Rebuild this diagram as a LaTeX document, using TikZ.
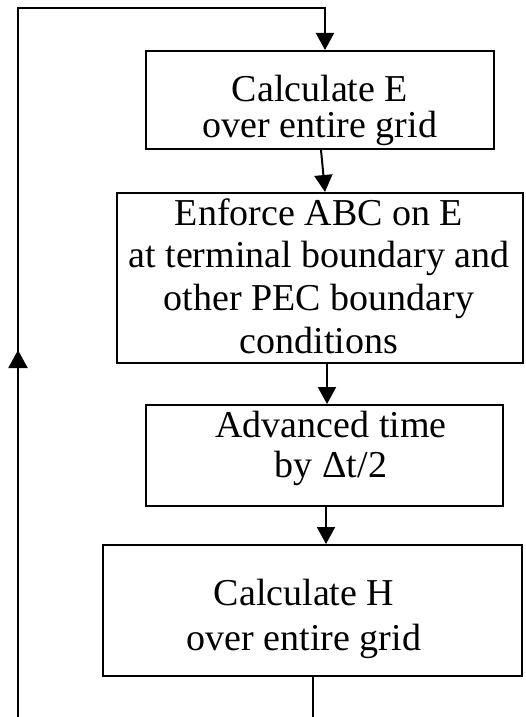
\documentclass[tikz,border=0pt]{standalone}
\usepackage{fontspec}
\setmainfont{Liberation Serif}
\usetikzlibrary{arrows.meta,calc,decorations.markings}
\begin{document}
\begin{tikzpicture}[x=1pt,y=1pt,
  box/.style={draw, line width=2pt, inner sep=0pt},
  txt/.style={inner sep=0pt, align=center},
  tip/.style={-{Triangle[width=18pt,length=17pt]}},
  conn/.style={line width=2pt},
  midup/.style={postaction={decorate}, decoration={markings,
      mark=at position 367pt with {\arrow{Triangle[width=19pt,length=18pt]}}}}
]
\useasboundingbox (0,0) rectangle (525,-717);

% boxes
\node[box, minimum width=348pt, minimum height=98pt]  (b1) at (320,-100) {};
\node[box, minimum width=406pt, minimum height=170pt] (b2) at (320,-278) {};
\node[box, minimum width=357pt, minimum height=101pt] (b3) at (324.5,-455.5) {};
\node[box, minimum width=419pt, minimum height=131pt] (b4) at (312.5,-610.5) {};

% texts
\node[txt, font=\fontsize{38}{36}\selectfont] (t1) at ($(b1.center)+(0,-10)$)
  {Calculate E\\over entire grid};
\node[txt, font=\fontsize{38}{42.7}\selectfont] (t2) at ($(b2.center)+(-1,2)$)
  {Enforce ABC on E\\at terminal boundary and\\other PEC boundary\\conditions};
\node[txt, font=\fontsize{38}{40}\selectfont] (t3) at ($(b3.center)+(6.5,7.5)$)
  {Advanced time\\by Δt/2};
\node[txt, font=\fontsize{38}{45}\selectfont] (t4) at ($(b4.center)+(-8.5,-8)$)
  {Calculate H\\over entire grid};

% helper coordinates
\coordinate (bot) at (312.5,-717);
\coordinate (lb) at (18,-717);
\coordinate (lt) at (18,-8);
\coordinate (rt) at (325,-8);

% connectors
\draw[conn, tip] ($(b1.south)+(1,0)$) -- ($(b2.north)+(5,0)$);
\draw[conn, tip] ($(b2.south)+(7,0)$) -- ($(b3.north)+(2.5,0)$);
\draw[conn, tip] ($(b3.south)+(1.5,0)$) -- ($(b4.north)+(13.5,0)$);
\draw[conn] (b4.south) -- (bot);
\draw[conn, tip, midup] (lb) -- (lt) -- (rt) -- ($(b1.north)+(5,0)$);
\end{tikzpicture}
\end{document}
